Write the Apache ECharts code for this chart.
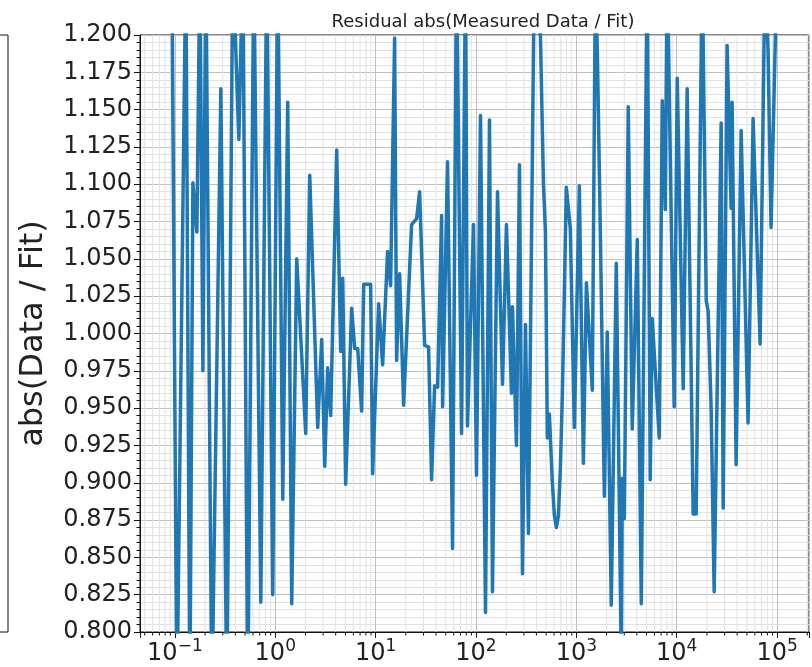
<!DOCTYPE html>
<html>
<head>
<meta charset="utf-8">
<script src="https://cdn.jsdelivr.net/npm/echarts@6/dist/echarts.min.js"></script>
<style>
  html, body { margin: 0; padding: 0; background: #fff; }
  #chart { width: 812px; height: 667px; }
</style>
</head>
<body>
<div id="chart"></div>
<script>
var freq = [0.0933, 0.1047, 0.1286, 0.1410, 0.1511, 0.1656, 0.1774, 0.1901, 0.2034, 0.2335,
  0.2870, 0.3291, 0.3776, 0.4335, 0.4753, 0.5325, 0.6109, 0.7178, 0.8227, 0.9444,
  1.059, 1.188, 1.331, 1.459, 1.636, 2.011, 2.205, 2.648, 2.902, 3.110,
  3.328, 3.566, 4.093, 4.486, 4.697, 5.029, 5.772, 6.184, 6.625, 7.258,
  7.600, 8.918, 9.338, 10.71, 11.74, 13.16, 14.10, 15.46, 16.19, 17.34,
  19.01, 22.82, 25.61, 27.44, 30.78, 33.69, 36.11, 38.69, 41.46, 45.43,
  46.49, 52.05, 58.40, 64.02, 71.80, 78.70, 82.28, 94.44, 101.2, 110.9,
  124.4, 136.3, 146.0, 163.8, 183.8, 201.1, 225.6, 230.9, 253.1, 271.2,
  290.6, 311.3, 333.0, 382.1, 438.7, 470.1, 492.0, 514.0, 538.4, 576.7,
  604.0, 632.4, 662.2, 693.4, 726.1, 760.3, 794.3, 871.0, 955.0, 1071,
  1175, 1259, 1442, 1545, 1618, 1734, 1901, 2032, 2228, 2500,
  2805, 2870, 3006, 3289, 3606, 4046, 4436, 5082, 5446, 5702,
  6699, 7178, 7691, 8035, 9441, 10120, 11610, 12710, 14590, 15630,
  17950, 19680, 20560, 22030, 23610, 27730, 29040, 31770, 34830, 35640,
  39080, 43850, 51400, 57680, 67770, 76030, 81280, 87100, 100000];

var ratio = [1.25, 0.75, 1.25, 0.75, 1.101, 1.068, 1.25, 0.975, 1.25, 0.75,
  1.164, 0.75, 1.25, 1.130, 1.25, 0.75, 1.25, 0.820, 1.25, 0.825,
  1.25, 0.889, 1.155, 0.819, 1.050, 0.933, 1.106, 0.937, 0.996, 0.911,
  0.977, 0.945, 1.123, 0.988, 1.037, 0.899, 1.017, 0.990, 0.990, 0.948,
  1.033, 1.033, 0.906, 1.020, 0.979, 1.055, 1.032, 1.198, 0.982, 1.040,
  0.952, 1.073, 1.077, 1.095, 0.992, 0.991, 0.902, 0.965, 0.964, 1.079,
  0.951, 1.115, 0.856, 1.25, 0.933, 1.25, 0.938, 1.073, 0.905, 1.146,
  0.813, 1.143, 0.827, 1.095, 0.966, 1.073, 0.960, 1.018, 0.925, 1.113,
  0.839, 1.006, 0.866, 1.25, 1.20, 1.10, 1.068, 0.930, 0.946, 0.900,
  0.878, 0.870, 0.878, 0.910, 0.960, 1.030, 1.098, 1.070, 0.937, 1.099,
  0.913, 1.034, 0.962, 1.23, 1.19, 1.068, 0.891, 1.001, 0.818, 1.047,
  0.78, 0.903, 0.876, 1.152, 0.936, 1.063, 0.819, 1.25, 0.902, 1.010,
  0.930, 1.156, 1.083, 1.25, 0.951, 1.171, 0.963, 1.164, 0.879, 0.879,
  1.25, 1.022, 1.015, 0.95, 0.827, 1.141, 0.883, 1.193, 1.084, 1.155,
  0.912, 1.136, 0.940, 1.144, 0.993, 1.25, 1.19, 1.071, 1.25];

var xRange = [0.0449, 208000];
var yRange = [0.8, 1.2];
var yStep = 0.025;
var decadeExps = [-2, -1, 0, 1, 2, 3, 4, 5];
var minorMults = [2, 3, 4, 5, 6, 7, 8, 9];

var points = freq.map(function (f, i) { return [f, ratio[i]]; });

// minor log gridlines (2..9 x 10^n) inside the visible range
var minorX = [];
decadeExps.forEach(function (e) {
  minorMults.forEach(function (m) {
    var v = m * Math.pow(10, e);
    if (v > xRange[0] && v < xRange[1]) minorX.push([v, 1]);
  });
});

var chart = echarts.init(document.getElementById('chart'));

var option = {
  animation: false,
  backgroundColor: '#fff',
  title: {
    text: 'Residual abs(Measured Data / Fit)',
    left: 478, textAlign: 'center', top: 8,
    textStyle: { fontFamily: 'DejaVu Sans', fontSize: 18, fontWeight: 'normal', color: '#222' }
  },
  grid: {
    left: 140, right: 2, top: 35, bottom: 35,
    show: true, borderColor: '#111', borderWidth: 1, backgroundColor: 'transparent'
  },
  xAxis: {
    type: 'log',
    logBase: 10,
    min: xRange[0],
    max: xRange[1],
    axisLine: { show: true, lineStyle: { color: '#111', width: 1 } },
    axisTick: { show: true, length: 6, lineStyle: { color: '#111' } },
    splitLine: { show: true, lineStyle: { color: '#c0c0c0', width: 1 } },
    axisLabel: {
      margin: 6,
      color: '#222',
      formatter: function (v) {
        var n = Math.round(Math.log10(v));
        if (Math.abs(Math.log10(v) - n) > 1e-6) return '';
        return '{b|10}{s|' + (n < 0 ? '\u2212' + (-n) : n) + '}';
      },
      rich: {
        b: { fontFamily: 'DejaVu Sans', fontSize: 24, color: '#222' },
        s: { fontFamily: 'DejaVu Sans', fontSize: 17, color: '#222', padding: [0, 0, 14, 0] }
      }
    }
  },
  yAxis: {
    type: 'value',
    min: yRange[0],
    max: yRange[1],
    interval: yStep,
    name: 'abs(Data / Fit)',
    nameLocation: 'middle',
    nameGap: 90,
    nameTextStyle: { fontFamily: 'DejaVu Sans', fontSize: 32, color: '#222' },
    axisLine: { show: true, lineStyle: { color: '#111', width: 1 } },
    axisTick: { show: true, length: 6, lineStyle: { color: '#111' } },
    minorTick: { show: true, splitNumber: 5, length: 3.5, lineStyle: { color: '#111' } },
    splitLine: { show: true, lineStyle: { color: '#c0c0c0', width: 1 } },
    minorSplitLine: { show: true, lineStyle: { color: '#e2e2e2', width: 1 } },
    axisLabel: {
      margin: 8,
      fontFamily: 'DejaVu Sans', fontSize: 24, color: '#222',
      formatter: function (v) { return v.toFixed(3); }
    }
  },
  series: [
    {
      type: 'custom',
      silent: true,
      z: 1,
      clip: false,
      data: minorX,
      encode: { x: 0, y: 1 },
      renderItem: function (params, api) {
        var x = api.coord([api.value(0), 1])[0];
        var top = params.coordSys.y;
        var bot = top + params.coordSys.height;
        return {
          type: 'group',
          children: [
            { type: 'line', shape: { x1: x, y1: top, x2: x, y2: bot }, style: { stroke: '#e2e2e2', lineWidth: 1 } },
            { type: 'line', shape: { x1: x, y1: bot, x2: x, y2: bot + 3.5 }, style: { stroke: '#111', lineWidth: 1 } }
          ]
        };
      }
    },
    {
      name: 'abs(Data / Fit)',
      type: 'line',
      z: 3,
      data: points,
      showSymbol: false,
      symbol: 'none',
      clip: true,
      lineStyle: { color: '#1f77b4', width: 3.5, join: 'round' }
    }
  ],
  graphic: [
    {
      type: 'polyline',
      shape: { points: [[0, 35], [8, 35], [8, 632], [0, 632]] },
      style: { stroke: '#111', lineWidth: 1, fill: null }
    }
  ]
};

chart.setOption(option);
</script>
</body>
</html>
